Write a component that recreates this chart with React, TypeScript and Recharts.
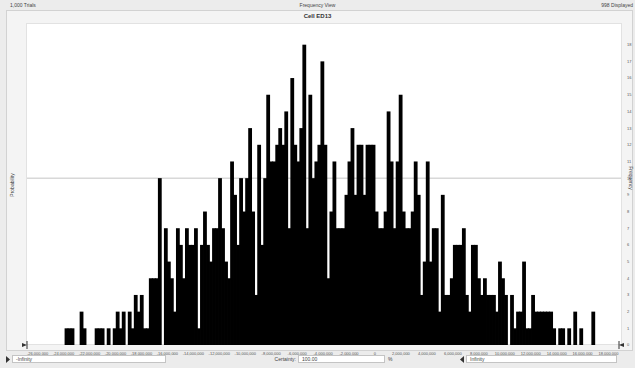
import { ComposedChart, Bar, XAxis, YAxis, CartesianGrid } from 'recharts'

// frequency per bin left to right
const counts = [
  1, 1, 1, 0, 0, 2, 1, 0, 0, 0, 1, 1, 1, 0, 1, 0, 1, 2, 1, 2, 0, 2, 1, 3, 2, 3, 1, 1, 4, 4, 4,
  10, 0, 7, 5, 4, 2, 7, 6, 4, 7, 6, 6, 7, 1, 6, 8, 6, 5, 7, 7, 10, 7, 5, 4, 11, 9, 6, 10, 8, 10,
  13, 8, 3, 12, 6, 10, 15, 11, 11, 12, 13, 12, 14, 7, 16, 12, 11, 13, 18, 7, 15, 10, 11, 12, 17, 12, 4, 8, 11, 7,
  7, 7, 9, 11, 13, 9, 12, 12, 9, 12, 12, 12, 8, 7, 7, 8, 14, 11, 7, 11, 15, 8, 7, 7, 8, 11, 9, 3, 5, 11,
  5, 7, 7, 2, 9, 3, 3, 4, 6, 6, 6, 7, 3, 2, 6, 6, 4, 3, 4, 3, 3, 3, 2, 5, 4, 3, 0, 3, 1, 2, 2, 5, 1, 1, 3,
  2, 2, 2, 2, 2, 2, 1, 0, 1, 1, 0, 1, 0, 2, 0, 1, 0, 0, 0, 2,
]

const binStart = -23892000
const binWidth = 232000

const xTicks = [
  -26000000, -24000000, -22000000, -20000000, -18000000, -16000000, -14000000, -12000000,
  -10000000, -8000000, -6000000, -4000000, -2000000, 0, 2000000, 4000000, 6000000, 8000000,
  10000000, 12000000, 14000000, 16000000, 18000000,
]
const freqTicks = [0, 1, 2, 3, 4, 5, 6, 7, 8, 9, 10, 11, 12, 13, 14, 15, 16, 17, 18]
const probTicks = [0, 0.01]

const data = counts.map((count, i) => ({ x: binStart + (i + 0.5) * binWidth, count }))

const font = '"Liberation Sans", Arial, sans-serif'
const tickStyle = { fontSize: 4, fill: '#555', fontFamily: font }

const fmt = (v: number) => (v === 0 ? '0' : v.toLocaleString('en-US'))

// widen each bar a little so neighbouring bins merge without hairline seams
const HistBar = (props: any) => {
  const { x, y, width, height } = props
  if (!height || height <= 0) return null
  return <rect x={x - 0.4} y={y} width={width + 0.8} height={height} fill="#000" />
}

function Box({ left, width, text }: { left: number; width: number; text: string }) {
  return (
    <div
      style={{
        position: 'absolute',
        left,
        top: 355,
        width,
        height: 8,
        background: '#fff',
        border: '1px solid #c4c4c4',
        fontSize: 5,
        lineHeight: '7px',
        paddingLeft: 3,
        boxSizing: 'border-box',
        color: '#444',
      }}
    >
      {text}
    </div>
  )
}

export default function App() {
  return (
    <div
      style={{
        position: 'absolute',
        left: 0,
        top: 0,
        width: 635,
        height: 368,
        background: '#ececec',
        fontFamily: font,
        color: '#444',
        overflow: 'hidden',
      }}
    >
      {/* header row */}
      <div style={{ position: 'absolute', left: 10, top: 2, fontSize: 5 }}>1,000 Trials</div>
      <div style={{ position: 'absolute', left: 0, width: 635, top: 2, fontSize: 5, textAlign: 'center' }}>
        Frequency View
      </div>
      <div style={{ position: 'absolute', right: 2, top: 2, fontSize: 5 }}>998 Displayed</div>

      {/* chart panel */}
      <div
        style={{
          position: 'absolute',
          left: 6,
          top: 10,
          width: 627,
          height: 341,
          background: '#f4f4f4',
          border: '1px solid #d2d2d2',
          boxSizing: 'border-box',
        }}
      />
      <div
        style={{
          position: 'absolute',
          left: 0,
          width: 635,
          top: 13,
          fontSize: 6,
          fontWeight: 'bold',
          textAlign: 'center',
          color: '#333',
        }}
      >
        Cell ED13
      </div>
      <div
        style={{
          position: 'absolute',
          left: 26,
          top: 23,
          width: 596,
          height: 322,
          background: '#fff',
          border: '1px solid #e2e2e2',
          boxSizing: 'border-box',
        }}
      />

      <div style={{ position: 'absolute', left: 0, top: 0 }}>
        <ComposedChart
          width={635}
          height={368}
          data={data}
          margin={{ top: 28, right: 2, bottom: 13, left: 7 }}
          barCategoryGap={0}
          barGap={0}
        >
          <CartesianGrid
            yAxisId="freq"
            vertical={false}
            horizontalValues={[10]}
            stroke="#c4c4c4"
          />
          <XAxis
            dataKey="x"
            type="number"
            domain={[-26820000, 18960000]}
            ticks={xTicks}
            interval={0}
            tickFormatter={fmt}
            tick={tickStyle}
            tickLine={false}
            axisLine={false}
            height={10}
            tickMargin={1}
          />
          <YAxis
            yAxisId="prob"
            domain={[0, 0.019]}
            ticks={probTicks}
            tickFormatter={(v: number) => v.toFixed(2)}
            tick={tickStyle}
            tickLine={false}
            axisLine={false}
            width={20}
            tickMargin={2}
          />
          <YAxis
            yAxisId="freq"
            orientation="right"
            domain={[0, 19]}
            ticks={freqTicks}
            interval={0}
            tick={tickStyle}
            tickLine={false}
            axisLine={false}
            width={12}
            tickMargin={0}
          />
          <Bar
            yAxisId="freq"
            dataKey="count"
            fill="#000"
            shape={HistBar}
            isAnimationActive={false}
          />
        </ComposedChart>
      </div>

      {/* axis titles */}
      <div
        style={{
          position: 'absolute',
          left: 12,
          top: 185,
          fontSize: 5,
          transform: 'translate(-50%, -50%) rotate(-90deg)',
          whiteSpace: 'nowrap',
        }}
      >
        Probability
      </div>
      <div
        style={{
          position: 'absolute',
          left: 631,
          top: 178,
          fontSize: 5,
          transform: 'translate(-50%, -50%) rotate(90deg)',
          whiteSpace: 'nowrap',
        }}
      >
        Frequency
      </div>

      {/* certainty grabbers */}
      <svg style={{ position: 'absolute', left: 20, top: 341 }} width={10} height={8}>
        <line x1={7} y1={0} x2={7} y2={8} stroke="#333" strokeWidth={1} />
        <polygon points="2,2 7,4 2,6" fill="#333" />
      </svg>
      <svg style={{ position: 'absolute', left: 616, top: 341 }} width={10} height={8}>
        <line x1={3} y1={0} x2={3} y2={8} stroke="#333" strokeWidth={1} />
        <polygon points="8,2 3,4 8,6" fill="#333" />
      </svg>

      {/* bottom certainty bar */}
      <svg style={{ position: 'absolute', left: 6, top: 356 }} width={5} height={7}>
        <polygon points="0,0 4,3.5 0,7" fill="#333" />
      </svg>
      <Box left={12} width={154} text="-Infinity" />
      <div style={{ position: 'absolute', left: 270, top: 356, fontSize: 5, width: 26, textAlign: 'right' }}>
        Certainty:
      </div>
      <Box left={298} width={87} text="100.00" />
      <div style={{ position: 'absolute', left: 388, top: 356, fontSize: 5 }}>%</div>
      <svg style={{ position: 'absolute', left: 460, top: 356 }} width={5} height={7}>
        <polygon points="4,0 0,3.5 4,7" fill="#333" />
      </svg>
      <Box left={466} width={151} text="Infinity" />
    </div>
  )
}
